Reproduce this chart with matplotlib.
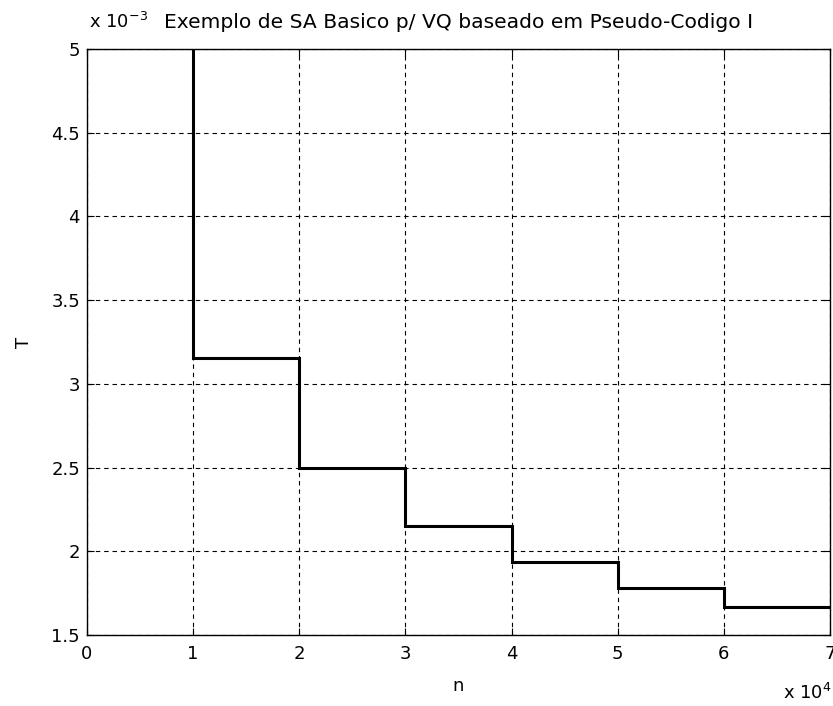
import matplotlib
matplotlib.use("Agg")
import matplotlib.pyplot as plt
from matplotlib.ticker import FuncFormatter

# Step-wise temperature schedule of the annealing run
n_edges = [0, 10000, 20000, 30000, 40000, 50000, 60000, 70000]
T_levels = [7.2e-3, 3.155e-3, 2.50e-3, 2.153e-3, 1.934e-3, 1.781e-3, 1.667e-3]

x_ticks = [0, 1, 2, 3, 4, 5, 6, 7]
y_ticks = [1.5, 2, 2.5, 3, 3.5, 4, 4.5, 5]

plt.rcParams['font.family'] = ['DejaVu Sans']

fig = plt.figure(figsize=(8.33, 7.06), dpi=100)
ax = fig.add_axes([0.1044, 0.1006, 0.8920, 0.8300])

# horizontal levels plus the vertical drops between them
x_pts = []
y_pts = []
for i, T in enumerate(T_levels):
    x_pts += [n_edges[i], n_edges[i + 1]]
    y_pts += [T, T]
ax.plot(x_pts, y_pts, color='black', linewidth=2.2, solid_joinstyle='miter')

ax.set_xlim(0, 70000)
ax.set_ylim(1.5e-3, 5e-3)
ax.set_xticks([v * 1e4 for v in x_ticks])
ax.set_yticks([v * 1e-3 for v in y_ticks])
ax.xaxis.set_major_formatter(FuncFormatter(lambda v, p: f"{v / 1e4:g}"))
ax.yaxis.set_major_formatter(FuncFormatter(lambda v, p: f"{v / 1e-3:g}"))

ax.grid(True, color='black', linestyle=(0, (4, 3.5)), linewidth=0.8)
ax.tick_params(direction='in', length=5, width=0.8, labelsize=13,
               top=True, right=True)
ax.tick_params(axis='x', pad=7)
ax.tick_params(axis='y', pad=5)
for s in ax.spines.values():
    s.set_linewidth(1.0)

ax.set_xlabel('n', fontsize=13, labelpad=10)
ax.set_ylabel('T', fontsize=13, labelpad=13)
ax.set_title('Exemplo de SA Basico p/ VQ baseado em Pseudo-Codigo I',
             fontsize=14.6, pad=15)

fig.text(0.1068, 0.955, r'x 10$^{-3}$', fontsize=13, ha='left', va='bottom')
fig.text(0.999, 0.004, r'x 10$^{4}$', fontsize=13, ha='right', va='bottom')

fig.savefig('out.png', dpi=100)
